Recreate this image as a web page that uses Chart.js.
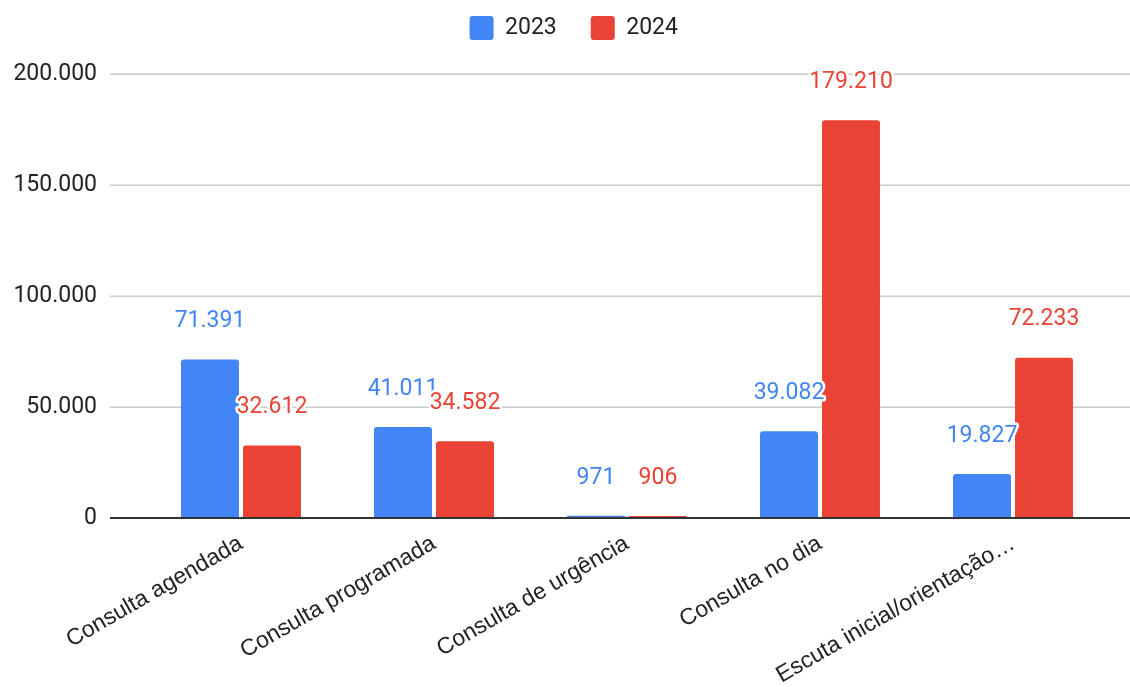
<!DOCTYPE html>
<html><head><meta charset="utf-8">
<script src="https://cdn.jsdelivr.net/npm/chart.js@4/dist/chart.umd.min.js"></script>
<style>html,body{margin:0;padding:0;background:#fff;overflow:hidden}</style>
</head><body>
<canvas id="c" width="1130" height="687"></canvas>
<script>
const categories = ['Consulta agendada', 'Consulta programada', 'Consulta de urgência', 'Consulta no dia', 'Escuta inicial/orientação…'];
const seriesNames = ['2023', '2024'];
const values2023 = [71391, 41011, 971, 39082, 19827];
const values2024 = [32612, 34582, 906, 179210, 72233];
const yTicks = [0, 50000, 100000, 150000, 200000];

const BLUE = '#4285F4', RED = '#EA4335';
const fmt = v => String(v).replace(/\B(?=(\d{3})+(?!\d))/g, '.');

const gridPlugin = {
  id: 'gsGrid',
  beforeDatasetsDraw(chart) {
    const y = chart.scales.y, ctx = chart.ctx;
    ctx.save();
    ctx.strokeStyle = '#cccccc';
    ctx.lineWidth = 1.5;
    yTicks.forEach(v => {
      if (v === 0) return;
      const py = Math.round(y.getPixelForValue(v)) + 0.25;
      ctx.beginPath(); ctx.moveTo(110, py); ctx.lineTo(chart.width, py); ctx.stroke();
    });
    ctx.restore();
  },
  afterDatasetsDraw(chart) {
    const y = chart.scales.y, ctx = chart.ctx;
    ctx.save();
    ctx.strokeStyle = '#333333';
    ctx.lineWidth = 2;
    const py = y.getPixelForValue(0);
    ctx.beginPath(); ctx.moveTo(110, py); ctx.lineTo(chart.width, py); ctx.stroke();
    ctx.restore();
  }
};

const labelPlugin = {
  id: 'gsLabels',
  afterDatasetsDraw(chart) {
    const ctx = chart.ctx;
    ctx.save();
    ctx.font = '23px Roboto';
    ctx.textAlign = 'center';
    ctx.textBaseline = 'middle';
    ctx.lineJoin = 'round';
    chart.data.datasets.forEach((ds, di) => {
      const meta = chart.getDatasetMeta(di);
      meta.data.forEach((bar, i) => {
        const t = fmt(ds.data[i]);
        const x = bar.x, yy = bar.y - 38;
        ctx.strokeStyle = '#ffffff';
        ctx.lineWidth = 5;
        ctx.strokeText(t, x, yy);
        ctx.fillStyle = ds.backgroundColor;
        ctx.fillText(t, x, yy);
      });
    });
    ctx.restore();
  }
};

const legendSpacer = {
  id: 'legendSpacer',
  beforeLayout(chart) {
    const lg = chart.legend;
    if (lg && !lg._spacerPatched) {
      const orig = lg.fit;
      lg.fit = function () { orig.call(this); this.height += 24; };
      lg._spacerPatched = true;
    }
  },
  afterLayout(chart) {
    const lg = chart.legend;
    if (lg) { lg.left += 13; lg.right += 13; }
  }
};

new Chart(document.getElementById('c'), {
  type: 'bar',
  data: {
    labels: categories,
    datasets: [
      { label: seriesNames[0], data: values2023, backgroundColor: BLUE },
      { label: seriesNames[1], data: values2024, backgroundColor: RED }
    ]
  },
  options: {
    responsive: false,
    animation: false,
    devicePixelRatio: 1,
    layout: { padding: { left: 12, right: 20.5, top: -18, bottom: 0 } },
    datasets: {
      bar: {
        categoryPercentage: 0.6425,
        barPercentage: 0.935,
        borderRadius: { topLeft: 3, topRight: 3, bottomLeft: 0, bottomRight: 0 },
        borderSkipped: 'start'
      }
    },
    plugins: {
      legend: {
        position: 'top',
        align: 'center',
        labels: {
          boxWidth: 24, boxHeight: 24, padding: 34,
          useBorderRadius: true, borderRadius: 3,
          color: '#222222',
          font: { family: 'Roboto', size: 23 }
        }
      },
      tooltip: { enabled: false }
    },
    scales: {
      x: {
        grid: { display: false, drawTicks: false },
        border: { display: false },
        afterFit(scale) { scale.height = 169; },
        ticks: {
          autoSkip: false, maxRotation: 30, minRotation: 30,
          color: '#222222', padding: 12,
          font: { family: 'Liberation Sans', size: 23 }
        }
      },
      y: {
        min: 0, max: 200000,
        afterBuildTicks(scale) { scale.ticks = yTicks.map(v => ({ value: v })); },
        afterFit(scale) { scale.width = 132.5; },
        grid: { display: false, drawTicks: false },
        border: { display: false },
        ticks: {
          color: '#222222', padding: 47.5,
          font: { family: 'Roboto', size: 23 },
          callback: v => fmt(v)
        }
      }
    }
  },
  plugins: [gridPlugin, labelPlugin, legendSpacer]
});
</script>
</body></html>
